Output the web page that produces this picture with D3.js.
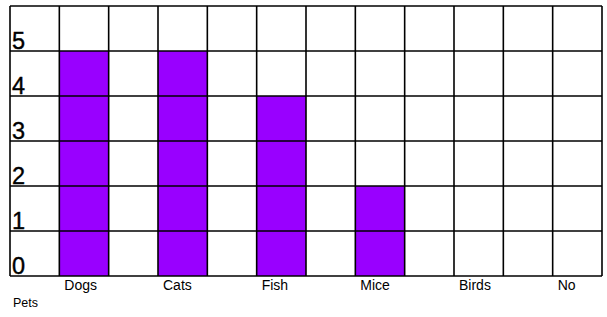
<!DOCTYPE html>
<html>
<head>
<meta charset="utf-8">
<script src="https://cdn.jsdelivr.net/npm/d3@7"></script>
<style>
  body { margin: 0; background: #fff; }
  text { font-family: "Liberation Sans", Arial, sans-serif; }
</style>
</head>
<body>
<svg id="chart"></svg>
<script>
// data
const pets = ["Dogs", "Cats", "Fish", "Mice", "Birds", "No"];
const counts = [5, 5, 4, 2, 0, 0];
const yTicks = [0, 1, 2, 3, 4, 5];
const axisTitle = "Pets";

const config = {
  width: 607, height: 317,
  margin: { top: 6, right: 5, bottom: 41, left: 10 },
  cols: 12, rows: 6
};

const svg = d3.select("#chart")
  .attr("width", config.width)
  .attr("height", config.height);

const innerW = config.width - config.margin.left - config.margin.right;
const innerH = config.height - config.margin.top - config.margin.bottom;

// one empty column before each pet, pets sit on odd columns
const xScale = d3.scaleLinear()
  .domain([0, config.cols])
  .range([config.margin.left, config.margin.left + innerW]);

const yScale = d3.scaleLinear()
  .domain([0, config.rows])
  .range([config.margin.top + innerH, config.margin.top]);

const colW = xScale(1) - xScale(0);

// bars
svg.selectAll(".bar")
  .data(pets.map((p, i) => ({ pet: p, value: counts[i], col: 2 * i + 1 })))
  .join("rect")
    .attr("class", "bar")
    .attr("x", d => xScale(d.col))
    .attr("y", d => yScale(d.value))
    .attr("width", colW)
    .attr("height", d => yScale(0) - yScale(d.value))
    .attr("fill", "#9900ff");

// grid
const grid = svg.append("g")
  .attr("stroke", "#000")
  .attr("stroke-width", 1.6);

grid.selectAll(".vline")
  .data(d3.range(config.cols + 1))
  .join("line")
    .attr("class", "vline")
    .attr("x1", d => xScale(d)).attr("x2", d => xScale(d))
    .attr("y1", yScale(0)).attr("y2", yScale(config.rows));

grid.selectAll(".hline")
  .data(d3.range(config.rows + 1))
  .join("line")
    .attr("class", "hline")
    .attr("y1", d => yScale(d)).attr("y2", d => yScale(d))
    .attr("x1", xScale(0)).attr("x2", xScale(config.cols));

// y labels sit at the bottom of each row
svg.selectAll(".ylab")
  .data(yTicks)
  .join("text")
    .attr("class", "ylab")
    .attr("x", xScale(0) + 2)
    .attr("y", d => yScale(d) - 2.5)
    .attr("font-size", "23.5px")
    .attr("fill", "#000")
    .attr("stroke", "#000")
    .attr("stroke-width", 0.4)
    .text(d => d);

// x labels
svg.selectAll(".xlab")
  .data(pets)
  .join("text")
    .attr("class", "xlab")
    .attr("x", (d, i) => xScale(2 * i + 1) + 5)
    .attr("y", yScale(0) + 14)
    .attr("font-size", "14px")
    .attr("fill", "#000")
    .text(d => d);

svg.append("text")
  .attr("x", 13)
  .attr("y", 307)
  .attr("font-size", "12.5px")
  .attr("fill", "#000")
  .text(axisTitle);
</script>
</body>
</html>
